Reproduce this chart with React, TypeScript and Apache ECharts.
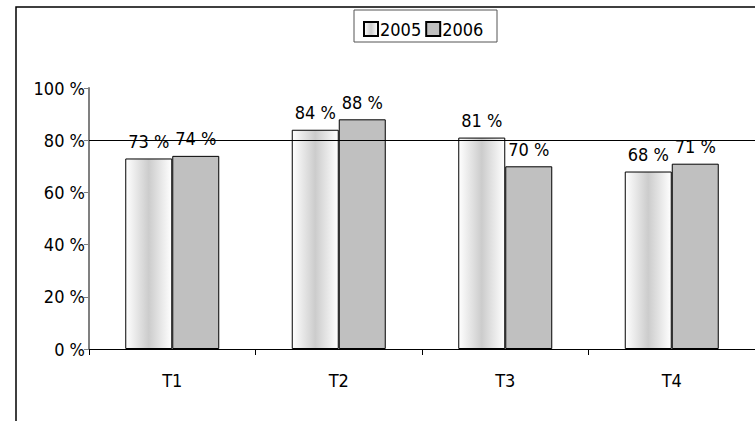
import React, { useEffect, useRef } from 'react';
import * as echarts from 'echarts';

const categories = ['T1', 'T2', 'T3', 'T4'];
const series2005 = [73, 84, 81, 68];
const series2006 = [74, 88, 70, 71];
const yTicks = [0, 20, 40, 60, 80, 100];
const targetLine = 80;

const FONT = "'DejaVu Sans Condensed', 'Liberation Sans Narrow', 'Roboto Condensed', sans-serif";

const App: React.FC = () => {
  const chartRef = useRef<HTMLDivElement>(null);

  useEffect(() => {
    document.body.style.margin = '0';
    if (!chartRef.current) return;
    const chart = echarts.init(chartRef.current, undefined, { renderer: 'svg' });

    const grad2005 = new echarts.graphic.LinearGradient(0, 0, 1, 0, [
      { offset: 0, color: '#ffffff' },
      { offset: 0.5, color: '#cccccc' },
      { offset: 1, color: '#ffffff' },
    ]);

    const label = {
      show: true,
      position: 'top' as const,
      formatter: (p: any) => `${p.value} %`,
      color: '#000',
      fontFamily: FONT,
      fontSize: 18,
      distance: 8,
    };

    chart.setOption({
      animation: false,
      backgroundColor: '#fff',
      textStyle: { fontFamily: FONT },
      graphic: [
        {
          type: 'rect',
          shape: { x: 16, y: 7, width: 800, height: 500 },
          style: { fill: 'none', stroke: '#000', lineWidth: 1.5 },
          silent: true,
        },
        {
          type: 'rect',
          shape: { x: 354, y: 10, width: 143, height: 32 },
          style: { fill: 'none', stroke: '#555', lineWidth: 1 },
          silent: true,
        },
      ],
      legend: {
        top: 15,
        left: 358,
        icon: 'rect',
        itemWidth: 14,
        itemHeight: 14,
        itemGap: 4,
        textStyle: { fontFamily: FONT, fontSize: 18, color: '#000', padding: [0, 0, 0, -3] },
        data: ['2005', '2006'],
      },
      grid: { left: 89, right: 0, top: 88, bottom: 72 },
      xAxis: {
        type: 'category',
        data: categories,
        axisLine: { lineStyle: { color: '#000' } },
        axisTick: { show: true, length: 6, lineStyle: { color: '#000' } },
        axisLabel: { color: '#000', fontFamily: FONT, fontSize: 18, margin: 22 },
      },
      yAxis: {
        type: 'value',
        min: yTicks[0],
        max: yTicks[yTicks.length - 1],
        interval: 20,
        axisLine: { show: true, lineStyle: { color: '#808080', width: 2 } },
        axisTick: { show: true, length: 5, lineStyle: { color: '#808080' } },
        splitLine: { show: false },
        axisLabel: {
          color: '#000',
          fontFamily: FONT,
          fontSize: 18,
          margin: 4,
          formatter: (v: number) => `${v} %`,
        },
      },
      series: [
        {
          name: '2005',
          type: 'bar',
          data: series2005,
          barWidth: 47,
          barGap: '0%',
          itemStyle: { color: grad2005, borderColor: '#000', borderWidth: 1 },
          label,
          markLine: {
            silent: true,
            symbol: 'none',
            label: { show: false },
            lineStyle: { color: '#000', type: 'solid', width: 1 },
            data: [{ yAxis: targetLine }],
          },
        },
        {
          name: '2006',
          type: 'bar',
          data: series2006,
          barWidth: 47,
          itemStyle: { color: '#c0c0c0', borderColor: '#000', borderWidth: 1 },
          label,
        },
      ],
    });

    return () => chart.dispose();
  }, []);

  return <div ref={chartRef} style={{ width: 755, height: 421 }} />;
};

export default App;
